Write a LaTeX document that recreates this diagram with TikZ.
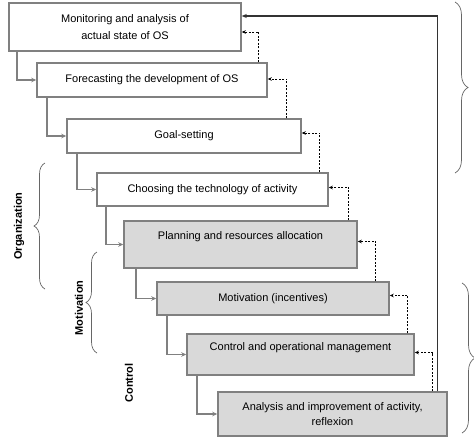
\documentclass[tikz,border=0pt]{standalone}
\usepackage{fontspec}
\setmainfont{Liberation Sans}
\usetikzlibrary{arrows.meta,positioning,decorations.pathreplacing}
\definecolor{boxgray}{gray}{0.5}
\definecolor{fillgray}{gray}{0.85}

\begin{document}
\begin{tikzpicture}[x=1pt,y=-1pt,
stage/.style={rectangle,draw=boxgray,line width=1.5pt,align=center,inner sep=2pt,font=\fontsize{11}{15}\selectfont},
shaded/.style={stage,fill=fillgray},
flow/.style={draw=boxgray,line width=1.6pt,-{Stealth[length=5pt,width=4.5pt]}},
feedback/.style={black,line width=0.7pt,dash pattern=on 2pt off 1.5pt,-{Stealth[length=4pt,width=3.5pt]}},
mainline/.style={black!80,line width=1.2pt,-{Stealth[length=5pt,width=4pt]}},
bracket/.style={draw=black!60,line width=0.7pt,decorate},
side/.style={rotate=90,font=\bfseries\fontsize{11}{13}\selectfont}]
\useasboundingbox (0,0) rectangle (474,439);

\node[stage,minimum width=232pt,minimum height=48pt,font=\fontsize{11}{17}\selectfont] at (125,27) (monitor) {Monitoring and analysis of\\actual state of OS};
\node[stage,minimum width=230pt,minimum height=34pt] at (152,80) (forecast) {Forecasting the development of OS};
\node[stage,minimum width=234pt,minimum height=34pt] at (184,136) (goal) {Goal-setting};
\node[stage,minimum width=231pt,minimum height=33pt] at (212.5,189.5) (techno) {Choosing the technology of activity};
\node[shaded,minimum width=233pt,minimum height=47pt,text depth=17pt] at (240.5,244.5) (planning) {Planning and resources allocation};
\node[shaded,minimum width=232pt,minimum height=33pt] at (273,298.5) (motiv) {Motivation (incentives)};
\node[shaded,minimum width=227pt,minimum height=41pt,text depth=15pt] at (300.5,354.5) (operational) {Control and operational management};
\node[shaded,minimum width=229pt,minimum height=44pt] at (332.5,414) (analysis) {Analysis and improvement of activity,\\reflexion};

\draw[flow] ([xshift=9pt]monitor.south west) |- (forecast.west);
\draw[flow] ([xshift=11pt]forecast.south west) |- (goal.west);
\draw[flow] ([xshift=11pt]goal.south west) |- (techno.west);
\draw[flow] ([xshift=10pt]techno.south west) |- (planning.west);
\draw[flow] ([xshift=13pt]planning.south west) |- (motiv.west);
\draw[flow] ([xshift=11pt]motiv.south west) |- (operational.west);
\draw[flow] ([xshift=11pt]operational.south west) |- (analysis.west);

\draw[feedback] ([xshift=-9pt]forecast.north east) |- ([yshift=-5pt]monitor.east);
\draw[feedback] ([xshift=-15pt]goal.north east) |- ([yshift=1pt]forecast.east);
\draw[feedback] ([xshift=-9pt]techno.north east) |- ([yshift=3pt]goal.east);
\draw[feedback] ([xshift=-9pt]planning.north east) |- ([yshift=2pt]techno.east);
\draw[feedback] ([xshift=-14pt]motiv.north east) |- ([yshift=3pt]planning.east);
\draw[feedback] ([xshift=-7pt]operational.north east) |- ([yshift=3pt]motiv.east);
\draw[feedback] ([xshift=-15pt]analysis.north east) |- ([yshift=2pt]operational.east);

\draw[mainline] ([xshift=-10pt]analysis.north east) |- ([yshift=11pt]monitor.east);

% braces
\draw[bracket,decoration={brace,amplitude=13pt}] (455,2) -- (455,173);
\draw[bracket,decoration={brace,amplitude=13pt}] (462,283) -- (462,433);
\draw[bracket,decoration={brace,amplitude=11pt}] (45,289) -- (45,163);
\draw[bracket,decoration={brace,amplitude=11pt}] (97,353) -- (97,252);

\node[side] at (19,226) (orglabel) {Organization};
\node[side] at (79,308) (motivlabel) {Motivation};
\node[side] at (129,383) (controllabel) {Control};
\end{tikzpicture}
\end{document}
